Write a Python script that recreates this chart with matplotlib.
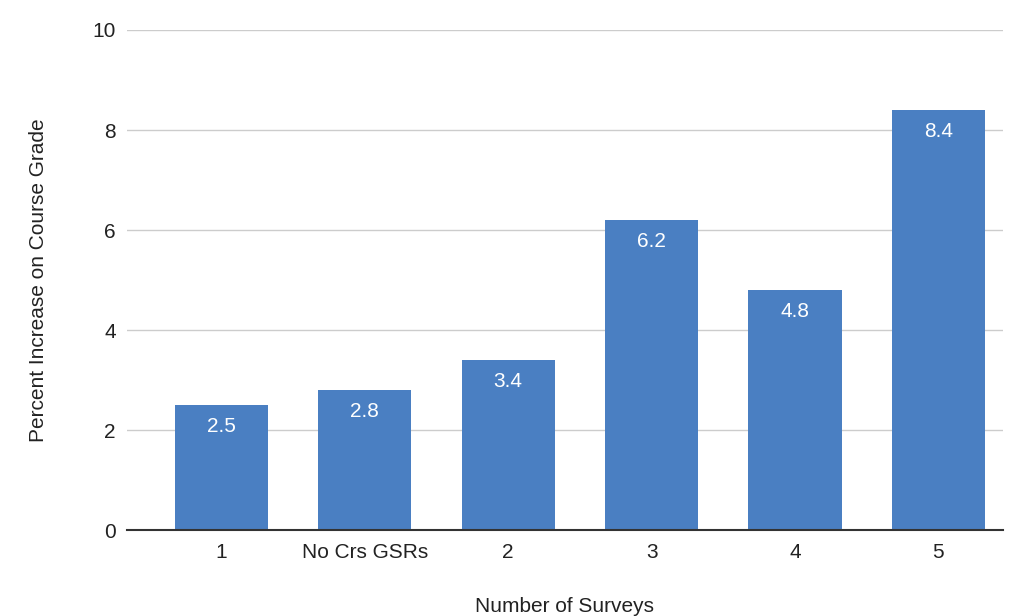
import matplotlib.pyplot as plt
import numpy as np

plt.rcParams['font.family'] = ['Liberation Sans', 'DejaVu Sans']

categories = ['1', 'No Crs GSRs', '2', '3', '4', '5']
values = [2.5, 2.8, 3.4, 6.2, 4.8, 8.4]
y_ticks = [0, 2, 4, 6, 8, 10]

bar_color = '#4a7fc2'

fig = plt.figure(figsize=(10.15, 6.16), dpi=100)
ax = fig.add_axes([0.125, 0.1396, 0.863, 0.8117])

x = np.arange(len(categories))
bars = ax.bar(x, values, width=0.65, color=bar_color, zorder=3)

# value labels inside the top of each bar
for xi, v in zip(x, values):
    ax.annotate(f'{v}', (xi, v), xytext=(0, -8.5), textcoords='offset points',
                ha='center', va='top', color='white', fontsize=15, zorder=4)

ax.set_xlim(-0.66, 5.45)
ax.set_ylim(0, 10)
ax.set_yticks(y_ticks)
ax.set_xticks(x)
ax.set_xticklabels(categories)
ax.tick_params(axis='both', length=0, labelsize=15, colors='#222222')
ax.tick_params(axis='x', pad=9.5)
ax.tick_params(axis='y', pad=8)

ax.grid(axis='y', color='#cccccc', linewidth=1, zorder=0)
for side in ['top', 'right', 'left']:
    ax.spines[side].set_visible(False)
ax.spines['bottom'].set_color('#333333')
ax.spines['bottom'].set_linewidth(1.5)
ax.spines['bottom'].set_zorder(5)

ax.set_ylabel('Percent Increase on Course Grade', fontsize=15, color='#222222', labelpad=32)
ax.set_xlabel('Number of Surveys', fontsize=15, color='#222222', labelpad=25)

plt.savefig('out.png', dpi=100)
